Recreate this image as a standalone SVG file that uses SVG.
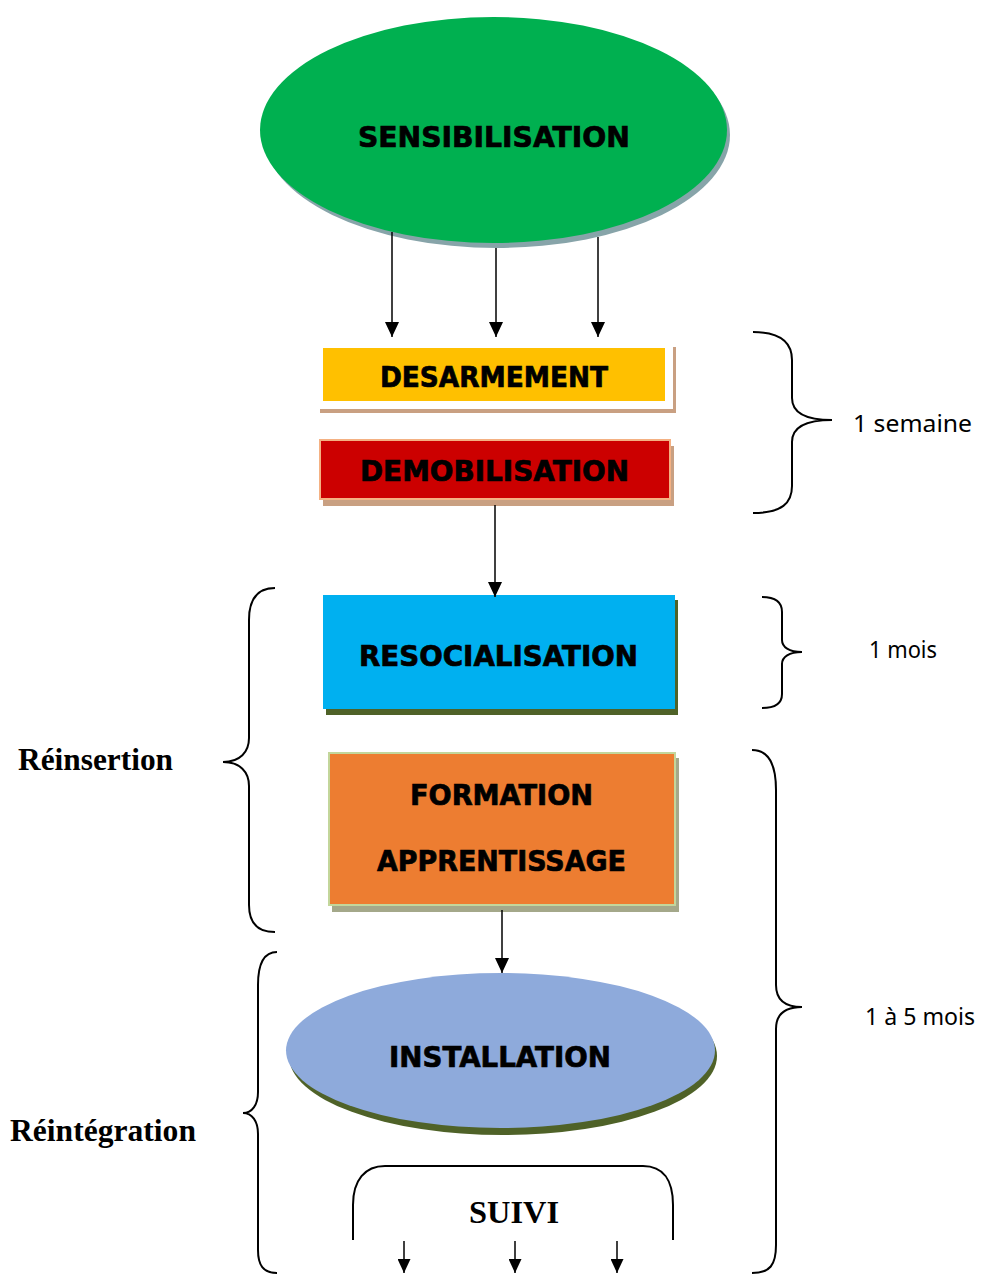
<svg xmlns="http://www.w3.org/2000/svg" width="987" height="1275" viewBox="0 0 987 1275">
<defs>
<marker id="ah" viewBox="0 0 15 14" refX="15" refY="7" markerWidth="15" markerHeight="14" markerUnits="userSpaceOnUse" orient="auto">
<path d="M0,0 L15,7 L0,14 Z" fill="#000"/>
</marker>
<marker id="ahs" viewBox="0 0 14 13" refX="14" refY="6.5" markerWidth="14" markerHeight="13" markerUnits="userSpaceOnUse" orient="auto">
<path d="M0,0 L14,6.5 L0,13 Z" fill="#000"/>
</marker>
</defs>
<style>
.lbl{font-family:"DejaVu Sans",Verdana,sans-serif;font-weight:bold;font-size:28px;fill:#000;stroke:#000;stroke-width:0.7;text-anchor:middle}
.dur{font-family:"Noto Sans","Open Sans",sans-serif;font-size:24px;fill:#000}
.side{font-family:"Liberation Serif","Times New Roman",serif;font-weight:bold;font-size:31px;fill:#000}
.brace{fill:none;stroke:#000;stroke-width:2}
.conn{stroke:#000;stroke-width:1.5;fill:none}
</style>
<rect width="987" height="1275" fill="#fff"/>

<g id="sensibilisation">
<ellipse cx="497" cy="135" rx="233" ry="113" fill="#87a4a9"/>
<ellipse cx="493.5" cy="130" rx="233.5" ry="113" fill="#00b050"/>
<text class="lbl" x="494" y="147" textLength="272" lengthAdjust="spacingAndGlyphs">SENSIBILISATION</text>
</g>

<g id="desarmement">
<rect x="320" y="347" width="356" height="66" fill="#c9a082"/>
<rect x="317" y="343" width="356" height="66" fill="#fff"/>
<rect x="323" y="348" width="342" height="53" fill="#ffc000"/>
<text class="lbl" x="494" y="387" textLength="228" lengthAdjust="spacingAndGlyphs">DESARMEMENT</text>
</g>

<g id="demobilisation">
<rect x="323" y="446" width="351" height="60" fill="#c9a082"/>
<rect x="320" y="440" width="350" height="59" fill="#cc0000" stroke="#f4b183" stroke-width="2"/>
<text class="lbl" x="494.5" y="481" textLength="269" lengthAdjust="spacingAndGlyphs">DEMOBILISATION</text>
</g>

<g id="resocialisation">
<rect x="326" y="600" width="352" height="115" fill="#4f6228"/>
<rect x="323" y="595" width="352" height="114" fill="#00b0f0"/>
<text class="lbl" x="498.5" y="666" textLength="279" lengthAdjust="spacingAndGlyphs">RESOCIALISATION</text>
</g>

<g id="formation">
<rect x="332" y="758" width="347" height="154" fill="#a4a88a"/>
<rect x="329" y="753" width="346" height="152" fill="#ed7d31" stroke="#c3d69b" stroke-width="2"/>
<text class="lbl" x="501.5" y="805" textLength="183" lengthAdjust="spacingAndGlyphs">FORMATION</text>
<text class="lbl" x="501.5" y="871" textLength="249" lengthAdjust="spacingAndGlyphs">APPRENTISSAGE</text>
</g>

<g id="installation">
<ellipse cx="503" cy="1056" rx="214" ry="79" fill="#4f6228"/>
<ellipse cx="500.5" cy="1050.5" rx="214.5" ry="77.5" fill="#8eaadb"/>
<text class="lbl" x="500" y="1067" textLength="222" lengthAdjust="spacingAndGlyphs">INSTALLATION</text>
</g>

<g id="suivi">
<path class="brace" d="M353,1240 L353,1205 C353,1180 365,1166 385,1166 L643,1166 C663,1166 673,1180 673,1205 L673,1240"/>
<text class="side" x="514" y="1223" font-size="32" text-anchor="middle" textLength="90" lengthAdjust="spacingAndGlyphs">SUIVI</text>
</g>

<g id="brace-1semaine">
<path class="brace" d="M753,332 C782,332 792,343 792,360 L792,398 C792,412 805,420 832,420 C805,420 792,428 792,442 L792,486 C792,503 782,513 753,513"/>
<text class="dur" x="853" y="432" textLength="119" lengthAdjust="spacingAndGlyphs">1 semaine</text>
</g>

<g id="brace-1mois">
<path class="brace" d="M762,597 C776,597 782,602 782,612 L782,640 C782,647 789,652 802,652 C789,652 782,657 782,664 L782,694 C782,703 776,708 762,708"/>
<text class="dur" x="869" y="658" textLength="68" lengthAdjust="spacingAndGlyphs">1 mois</text>
</g>

<g id="brace-1a5mois">
<path class="brace" d="M752,750 C770,750 776,768 776,790 L776,985 C776,1000 785,1007 802,1007 C785,1007 776,1014 776,1029 L776,1245 C776,1265 770,1273 752,1273"/>
<text class="dur" x="865" y="1025" textLength="110" lengthAdjust="spacingAndGlyphs">1 à 5 mois</text>
</g>

<g id="brace-reinsertion">
<path class="brace" d="M275,588 C257,588 249,600 249,620 L249,738 C249,752 240,762 223,762 C240,762 249,772 249,786 L249,905 C249,923 257,932 275,932"/>
<text class="side" x="18" y="770" textLength="155" lengthAdjust="spacingAndGlyphs">Réinsertion</text>
</g>

<g id="brace-reintegration">
<path class="brace" d="M277,952 C263,952 258,965 258,985 L258,1092 C258,1105 252,1113 243,1113 C252,1113 258,1121 258,1134 L258,1250 C258,1265 263,1273 277,1273"/>
<text class="side" x="10" y="1141" textLength="186" lengthAdjust="spacingAndGlyphs">Réintégration</text>
</g>

<g id="connectors">
<line class="conn" x1="392" y1="232" x2="392" y2="337" marker-end="url(#ah)"/>
<line class="conn" x1="496" y1="248" x2="496" y2="337" marker-end="url(#ah)"/>
<line class="conn" x1="598" y1="237" x2="598" y2="337" marker-end="url(#ah)"/>
<line class="conn" x1="495" y1="505" x2="495" y2="597" marker-end="url(#ah)"/>
<line class="conn" x1="502" y1="910" x2="502" y2="973" marker-end="url(#ah)"/>
<line class="conn" x1="404" y1="1241" x2="404" y2="1273" marker-end="url(#ahs)"/>
<line class="conn" x1="515" y1="1241" x2="515" y2="1273" marker-end="url(#ahs)"/>
<line class="conn" x1="617" y1="1241" x2="617" y2="1273" marker-end="url(#ahs)"/>
</g>
</svg>
